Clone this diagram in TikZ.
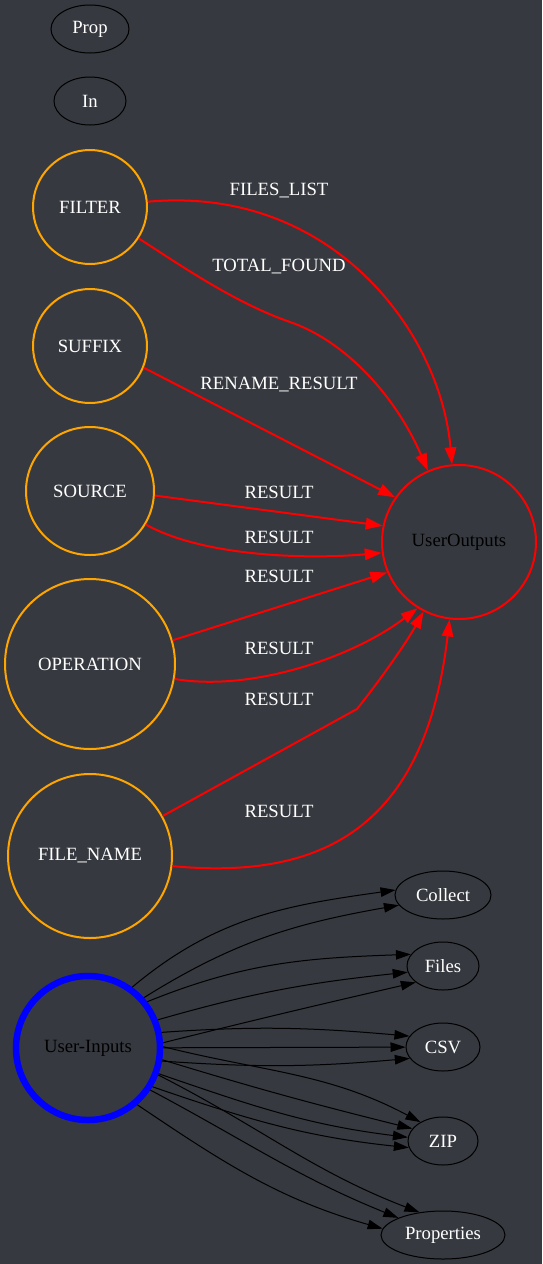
\documentclass[tikz,border=0pt]{standalone}
\usepackage{fontspec}
\newfontfamily\gvfont{LiberationSerif}[Extension=.ttf,UprightFont=*-Regular]
\usetikzlibrary{arrows.meta,shapes.geometric}
\definecolor{bgdark}{HTML}{36393F}
\definecolor{portorange}{HTML}{FFA500}
\begin{document}
\begin{tikzpicture}[x=1pt,y=1pt,
  every node/.style={font=\gvfont\fontsize{18.7}{22}\selectfont},
  oval/.style={ellipse,draw=black,line width=1pt,text=white,inner sep=0pt},
  port/.style={circle,draw=portorange,line width=2pt,text=white,inner sep=0pt},
  lbl/.style={text=white,inner sep=0pt},
  redge/.style={draw=red,line width=2pt,-{Triangle[length=17pt,width=11.5pt]}},
  bedge/.style={draw=black,line width=1pt,-{Triangle[length=15pt,width=9.5pt]}}]
\fill[bgdark] (0,0) rectangle (542,-1264);
\useasboundingbox (0,0) rectangle (542,-1264);
% legend
\node[oval,minimum width=78pt,minimum height=48pt] (Prop) at (90,-29) {Prop};
\node[oval,minimum width=72pt,minimum height=48pt] (In) at (90,-101) {In};
% inputs
\node[port,minimum size=114pt] (FILTER) at (90,-207) {FILTER};
\node[port,minimum size=114pt] (SUFFIX) at (90,-346) {SUFFIX};
\node[port,minimum size=128pt] (SOURCE) at (90,-491) {SOURCE};
\node[port,minimum size=170pt] (OPERATION) at (90,-664) {OPERATION};
\node[port,minimum size=164pt] (FILENAME) at (90,-856) {FILE\_NAME};
\node[circle,draw=red,line width=2pt,minimum size=154pt,inner sep=0pt] (UO) at (459,-542) {UserOutputs};
% outputs
\draw[redge] (FILTER) .. controls (330,-185) and (440,-330) .. (UO);
\draw[redge] (FILTER) .. controls (180,-265) and (235,-303) .. (290,-322)
  .. controls (345,-341) and (395,-395) .. (UO);
\draw[redge] (SUFFIX.-22) -- (UO.145);
\draw[redge] (SOURCE.-4) -- (UO.168);
\draw[redge] (SOURCE.-31) .. controls (200,-555) and (300,-560) .. (UO.188);
\draw[redge] (OPERATION.16) -- (UO.203);
\draw[redge] (OPERATION.-10) .. controls (250,-692) and (352,-658) .. (UO.238);
\draw[redge] (FILENAME) -- (357,-709) .. controls (377,-684) and (405,-645) .. (UO.243);
\draw[redge] (FILENAME.-7) .. controls (320,-880) and (425,-830) .. (UO.263);
\node[lbl] (lFilesList) at (279,-191) {FILES\_LIST};
\node[lbl] (lTotalFound) at (279,-267) {TOTAL\_FOUND};
\node[lbl] (lRename) at (279,-385) {RENAME\_RESULT};
\node[lbl] (lResultA) at (279,-492) {RESULT};
\node[lbl] (lResultB) at (279,-537) {RESULT};
\node[lbl] (lResultC) at (279,-576) {RESULT};
\node[lbl] (lResultD) at (279,-648) {RESULT};
\node[lbl] (lResultE) at (279,-699) {RESULT};
\node[lbl] (lResultF) at (279,-811) {RESULT};
% user inputs
\node[circle,draw=blue,line width=6.5pt,minimum size=144pt,inner sep=0pt] (UI) at (88,-1048) {User-Inputs};
\node[oval,minimum width=96pt,minimum height=48pt] (Collect) at (443,-895) {Collect};
\node[oval,minimum width=72pt,minimum height=48pt] (Files) at (443,-966) {Files};
\node[oval,minimum width=74pt,minimum height=48pt] (CSV) at (443,-1047) {CSV};
\node[oval,minimum width=70pt,minimum height=48pt] (ZIP) at (443,-1141) {ZIP};
\node[oval,minimum width=124pt,minimum height=48pt] (Properties) at (443,-1235) {Properties};
\draw[bedge] (UI.54) to[out=40,in=188] (Collect.174);
\draw[bedge] (UI.42) to[out=32,in=190] (Collect.193);
\draw[bedge] (UI.38) to[out=22,in=182] (Files.160);
\draw[bedge] (UI.22) to[out=16,in=186] (Files.190);
\draw[bedge] (UI.4) to[out=14,in=193] (Files.211);
\draw[bedge] (UI.12) to[out=4,in=175] (CSV.162);
\draw[bedge] (UI) -- (CSV);
\draw[bedge] (UI.-10) to[out=-4,in=185] (CSV.199);
\draw[bedge] (UI.1) to[out=-14,in=152] (ZIP.140);
\draw[bedge] (UI.-9) to[out=-17,in=166] (ZIP.158);
\draw[bedge] (UI.-20) to[out=-19,in=173] (ZIP.174);
\draw[bedge] (UI.-31) to[out=-19,in=174] (ZIP.191);
\draw[bedge] (UI.-21) to[out=-27,in=159] (Properties.136);
\draw[bedge] (UI.-34) to[out=-28,in=158] (Properties.159);
\draw[bedge] (UI.-49) to[out=-34,in=164] (Properties.174);
\end{tikzpicture}
\end{document}
